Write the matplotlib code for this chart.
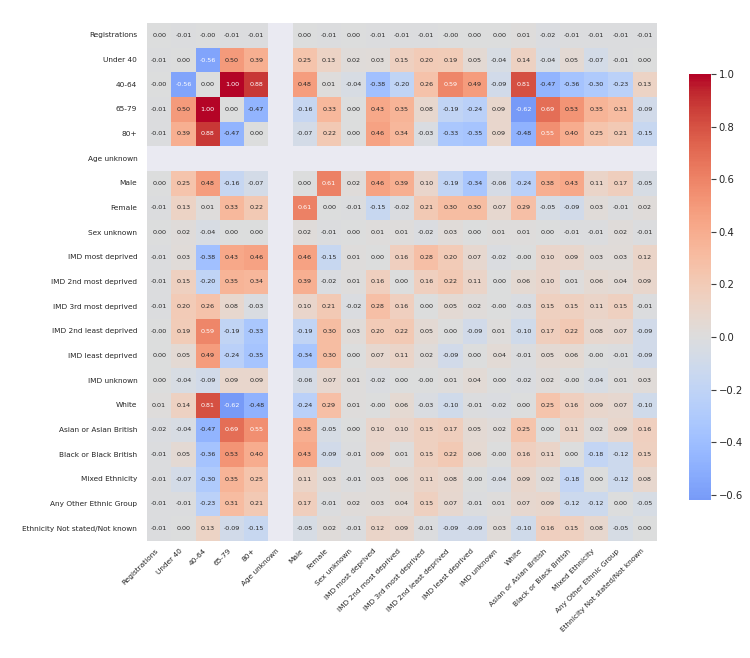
import numpy as np
import pandas as pd
import matplotlib
matplotlib.use("Agg")
import matplotlib.pyplot as plt
import seaborn as sns

labels = ["Registrations", "Under 40", "40-64", "65-79", "80+", "Age unknown",
          "Male", "Female", "Sex unknown", "IMD most deprived",
          "IMD 2nd most deprived", "IMD 3rd most deprived",
          "IMD 2nd least deprived", "IMD least deprived", "IMD unknown",
          "White", "Asian or Asian British", "Black or Black British",
          "Mixed Ethnicity", "Any Other Ethnic Group",
          "Ethnicity Not stated/Not known"]

nan = np.nan
z = -0.001  # shows as -0.00

row_registrations = [0.00, -0.01, z, -0.01, -0.01, nan, 0.00, -0.01, 0.00, -0.01, -0.01, -0.01, z, 0.00, 0.00, 0.01, -0.02, -0.01, -0.01, -0.01, -0.01]
row_under40 = [-0.01, 0.00, -0.56, 0.50, 0.39, nan, 0.25, 0.13, 0.02, 0.03, 0.15, 0.20, 0.19, 0.05, -0.04, 0.14, -0.04, 0.05, -0.07, -0.01, 0.00]
row_40_64 = [z, -0.56, 0.00, 1.00, 0.88, nan, 0.48, 0.01, -0.04, -0.38, -0.20, 0.26, 0.59, 0.49, -0.09, 0.81, -0.47, -0.36, -0.30, -0.23, 0.13]
row_65_79 = [-0.01, 0.50, 1.00, 0.00, -0.47, nan, -0.16, 0.33, 0.00, 0.43, 0.35, 0.08, -0.19, -0.24, 0.09, -0.62, 0.69, 0.53, 0.35, 0.31, -0.09]
row_80 = [-0.01, 0.39, 0.88, -0.47, 0.00, nan, -0.07, 0.22, 0.00, 0.46, 0.34, -0.03, -0.33, -0.35, 0.09, -0.48, 0.55, 0.40, 0.25, 0.21, -0.15]
row_age_unknown = [nan] * 21
row_male = [0.00, 0.25, 0.48, -0.16, -0.07, nan, 0.00, 0.61, 0.02, 0.46, 0.39, 0.10, -0.19, -0.34, -0.06, -0.24, 0.38, 0.43, 0.11, 0.17, -0.05]
row_female = [-0.01, 0.13, 0.01, 0.33, 0.22, nan, 0.61, 0.00, -0.01, -0.15, -0.02, 0.21, 0.30, 0.30, 0.07, 0.29, -0.05, -0.09, 0.03, -0.01, 0.02]
row_sex_unknown = [0.00, 0.02, -0.04, 0.00, 0.00, nan, 0.02, -0.01, 0.00, 0.01, 0.01, -0.02, 0.03, 0.00, 0.01, 0.01, 0.00, -0.01, -0.01, 0.02, -0.01]
row_imd1 = [-0.01, 0.03, -0.38, 0.43, 0.46, nan, 0.46, -0.15, 0.01, 0.00, 0.16, 0.28, 0.20, 0.07, -0.02, z, 0.10, 0.09, 0.03, 0.03, 0.12]
row_imd2 = [-0.01, 0.15, -0.20, 0.35, 0.34, nan, 0.39, -0.02, 0.01, 0.16, 0.00, 0.16, 0.22, 0.11, 0.00, 0.06, 0.10, 0.01, 0.06, 0.04, 0.09]
row_imd3 = [-0.01, 0.20, 0.26, 0.08, -0.03, nan, 0.10, 0.21, -0.02, 0.28, 0.16, 0.00, 0.05, 0.02, z, -0.03, 0.15, 0.15, 0.11, 0.15, -0.01]
row_imd4 = [z, 0.19, 0.59, -0.19, -0.33, nan, -0.19, 0.30, 0.03, 0.20, 0.22, 0.05, 0.00, -0.09, 0.01, -0.10, 0.17, 0.22, 0.08, 0.07, -0.09]
row_imd5 = [0.00, 0.05, 0.49, -0.24, -0.35, nan, -0.34, 0.30, 0.00, 0.07, 0.11, 0.02, -0.09, 0.00, 0.04, -0.01, 0.05, 0.06, z, -0.01, -0.09]
row_imd_unknown = [0.00, -0.04, -0.09, 0.09, 0.09, nan, -0.06, 0.07, 0.01, -0.02, 0.00, z, 0.01, 0.04, 0.00, -0.02, 0.02, z, -0.04, 0.01, 0.03]
row_white = [0.01, 0.14, 0.81, -0.62, -0.48, nan, -0.24, 0.29, 0.01, z, 0.06, -0.03, -0.10, -0.01, -0.02, 0.00, 0.25, 0.16, 0.09, 0.07, -0.10]
row_asian = [-0.02, -0.04, -0.47, 0.69, 0.55, nan, 0.38, -0.05, 0.00, 0.10, 0.10, 0.15, 0.17, 0.05, 0.02, 0.25, 0.00, 0.11, 0.02, 0.09, 0.16]
row_black = [-0.01, 0.05, -0.36, 0.53, 0.40, nan, 0.43, -0.09, -0.01, 0.09, 0.01, 0.15, 0.22, 0.06, z, 0.16, 0.11, 0.00, -0.18, -0.12, 0.15]
row_mixed = [-0.01, -0.07, -0.30, 0.35, 0.25, nan, 0.11, 0.03, -0.01, 0.03, 0.06, 0.11, 0.08, z, -0.04, 0.09, 0.02, -0.18, 0.00, -0.12, 0.08]
row_other = [-0.01, -0.01, -0.23, 0.31, 0.21, nan, 0.17, -0.01, 0.02, 0.03, 0.04, 0.15, 0.07, -0.01, 0.01, 0.07, 0.09, -0.12, -0.12, 0.00, -0.05]
row_not_stated = [-0.01, 0.00, 0.13, -0.09, -0.15, nan, -0.05, 0.02, -0.01, 0.12, 0.09, -0.01, -0.09, -0.09, 0.03, -0.10, 0.16, 0.15, 0.08, -0.05, 0.00]

corr = pd.DataFrame([row_registrations, row_under40, row_40_64, row_65_79, row_80,
                     row_age_unknown, row_male, row_female, row_sex_unknown,
                     row_imd1, row_imd2, row_imd3, row_imd4, row_imd5,
                     row_imd_unknown, row_white, row_asian, row_black,
                     row_mixed, row_other, row_not_stated],
                    index=labels, columns=labels)

sns.set_theme(style="darkgrid")

fig = plt.figure(figsize=(7.5, 6.58), dpi=100)
ax = fig.add_axes([0.196, 0.178, 0.680, 0.787])
cax = fig.add_axes([0.9187, 0.240, 0.029, 0.6475])

sns.heatmap(corr, ax=ax, cbar_ax=cax, cmap="coolwarm", center=0,
            annot=True, fmt=".2f", annot_kws={"size": 4.6})
ax.grid(False)

ax.set_xticklabels(ax.get_xticklabels(), rotation=45, ha="right", fontsize=5.3)
ax.set_yticklabels(ax.get_yticklabels(), rotation=0, fontsize=5.3)
ax.tick_params(axis="x", length=0, pad=5)
ax.tick_params(axis="y", length=0, pad=7)
cax.tick_params(labelsize=7.2, length=3.5, width=0.8, color="#404040", right=True, pad=2)

fig.savefig("out.png", dpi=100)
